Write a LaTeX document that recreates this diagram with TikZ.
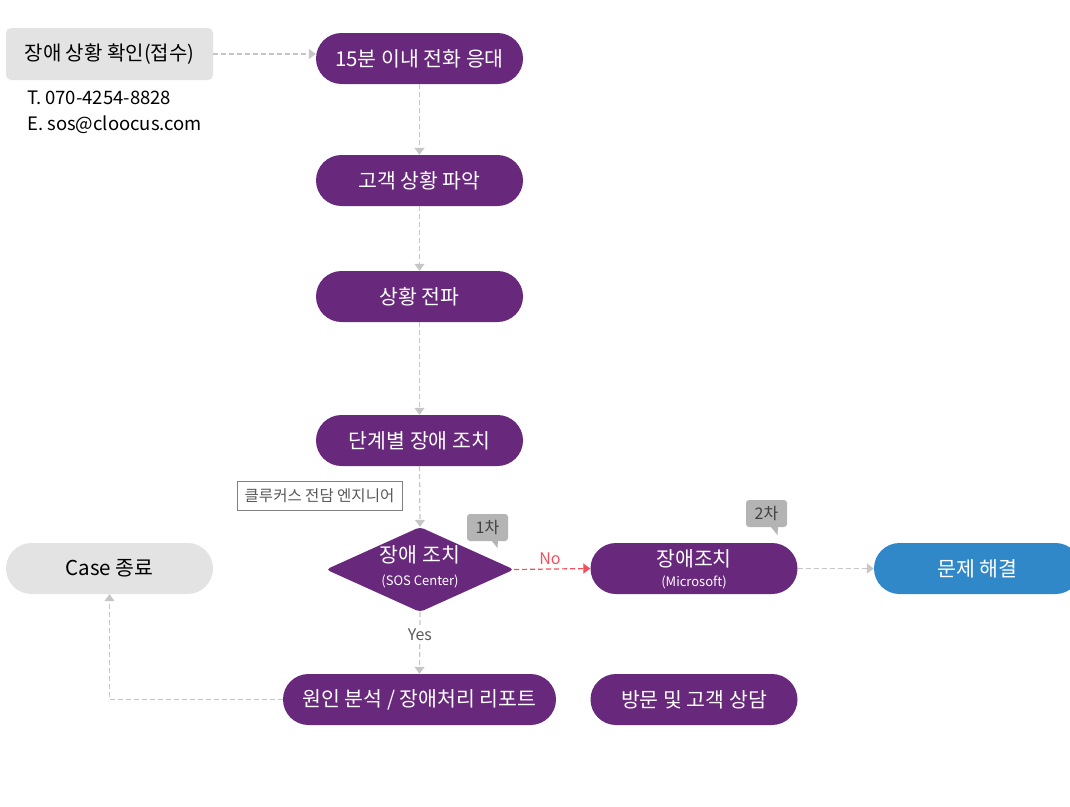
\documentclass[tikz,border=0pt]{standalone}
\usepackage{fontspec}
\setmainfont{Noto Sans CJK KR}
\usetikzlibrary{shapes.geometric,arrows.meta}
\definecolor{purp}{HTML}{68287C}
\definecolor{bluep}{HTML}{3088C8}
\definecolor{lgray}{HTML}{E3E3E3}
\definecolor{lineg}{HTML}{C6C6C6}
\definecolor{callg}{HTML}{B4B4B4}
\definecolor{redl}{HTML}{F0505E}
\tikzset{
  pill/.style={fill=purp, text=white, rounded corners=25.5pt, minimum width=207pt, minimum height=51pt, inner sep=0pt, font=\fontsize{20.5}{24}\selectfont},
  graypill/.style={pill, fill=lgray, text=black},
  bluepill/.style={pill, fill=bluep},
  conn/.style={draw=lineg, line width=1.2pt, dash pattern=on 5pt off 3pt, -{Triangle[width=10pt,length=7pt,fill=lineg]}},
  redconn/.style={draw=redl, line width=1.2pt, dash pattern=on 5pt off 3pt, -{Triangle[width=10pt,length=7pt,fill=redl]}},
  callout/.style={fill=callg, text=black!75, rounded corners=3pt, minimum width=41pt, minimum height=27pt, inner sep=0pt, font=\fontsize{16}{18}\selectfont},
  small/.style={font=\fontsize{16}{18}\selectfont},
}
\begin{document}
\begin{tikzpicture}[x=1pt,y=-1pt]
\useasboundingbox (0,0) rectangle (1070,806);
\fill[white] (0,0) rectangle (1070,806);

% top-left box
\node[fill=lgray, rounded corners=5pt, minimum width=207pt, minimum height=52pt, inner sep=0pt, font=\fontsize{20}{24}\selectfont] (start) at (109.5,54) {장애 상황 확인(접수)};
\node[anchor=west, font=\fontsize{18.5}{22}\selectfont, inner sep=0pt] (tel) at (27,98) {T. 070-4254-8828};
\node[anchor=west, font=\fontsize{18.5}{22}\selectfont, inner sep=0pt] (mail) at (27,125) {E. sos@cloocus.com};

% main column
\node[pill] (p1) at (419.5,58.5) {15분 이내 전화 응대};
\node[pill] (p2) at (419.5,180.5) {고객 상황 파악};
\node[pill] (p3) at (419.5,296.5) {상황 전파};
\node[pill] (p4) at (419.5,440.5) {단계별 장애 조치};

\node[draw=black!50, fill=white, text=black!65, minimum width=165pt, minimum height=29pt, inner sep=0pt, line width=0.8pt, font=\fontsize{15.5}{18}\selectfont] (eng) at (319.5,495.5) {클루커스 전담 엔지니어};

\node[diamond, fill=purp, minimum width=188pt, minimum height=85pt, inner sep=0pt, rounded corners=4pt] (dia) at (420,569.5) {};
\node[text=white, align=center, inner sep=0pt, font=\fontsize{20.5}{23}\selectfont] (diat) at (420,567) {장애 조치\\{\fontsize{13}{15}\selectfont (SOS Center)}};

\node[pill] (ms) at (694,568.5) {};
\node[text=white, align=center, inner sep=0pt, font=\fontsize{20.5}{20}\selectfont] (mst) at (694,569) {장애조치\\{\fontsize{13}{15}\selectfont (Microsoft)}};
\node[bluepill] (solve) at (977.5,568.5) {문제 해결};
\node[graypill] (case) at (109.5,568.5) {Case 종료};

\node[pill, minimum width=273pt] (p5) at (419.5,699.5) {원인 분석 / 장애처리 리포트};
\node[pill] (p6) at (694,699.5) {방문 및 고객 상담};

% callouts
\node[callout] (c1) at (487.5,527.5) {1차};
\fill[callg] (491,540) -- (498,540) -- (497.5,548) -- cycle;
\node[callout] (c2) at (766.5,513.5) {2차};
\fill[callg] (770,526) -- (778,526) -- (777.5,535) -- cycle;

% connectors
\draw[conn] (start.east) -- (start.east -| p1.west);
\draw[conn] (p1.south) -- (p2.north);
\draw[conn] (p2.south) -- (p3.north);
\draw[conn] (p3.south) -- (p4.north);
\draw[conn] (p4.south) -- (dia.north);
\draw[conn] (dia.south) -- node[pos=0.36, fill=white, text=black!65, small, inner sep=1pt] (yes) {Yes} (p5.north);
\draw[redconn] (dia.east) -- node[pos=0.47, above=4pt, text=redl, small, inner sep=0pt] (no) {No} (ms.west);
\draw[conn] (ms.east) -- (solve.west);
\draw[conn] (p5.west) -| (case.south);
\end{tikzpicture}
\end{document}
